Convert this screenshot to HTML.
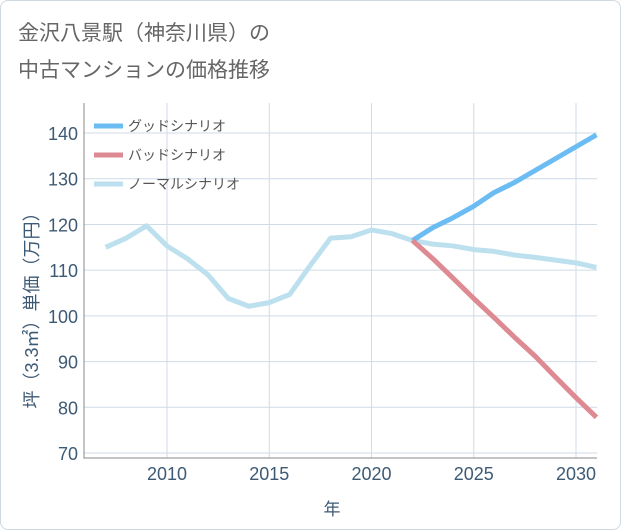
<!DOCTYPE html>
<html><head><meta charset="utf-8"><style>
body{margin:0;background:#fff;}
#card{position:absolute;left:0;top:0;width:619px;height:528px;border:1px solid #d0d8e0;border-radius:8px;background:#fff;}
text{font-family:"Liberation Sans","Noto Sans CJK JP",sans-serif;}
</style></head><body>
<div id="card"></div>
<svg id="chart" width="621" height="530" style="position:absolute;left:0;top:0">
<text x="18" y="40" font-size="21" fill="#666">金沢八景駅（神奈川県）の</text>
<text x="18" y="77" font-size="21" fill="#666">中古マンションの価格推移</text>
<g id="grid"></g><g id="series"></g><g id="axes"></g>
<text transform="translate(38,306) rotate(-90)" font-size="18" fill="#3d5a75" text-anchor="middle">坪（3.3㎡）単価（万円）</text>
<text x="332" y="515" font-size="17" fill="#3d5a75" text-anchor="middle">年</text>
<g id="legend"></g>
</svg>
<script>
const years=[2007,2008,2009,2010,2011,2012,2013,2014,2015,2016,2017,2018,2019,2020,2021,2022,2023,2024,2025,2026,2027,2028,2029,2030,2031];
const normal=[115,117,119.7,115.3,112.5,109,103.8,102.1,102.9,104.7,111,117,117.3,118.8,118,116.5,115.7,115.3,114.5,114.1,113.3,112.8,112.2,111.6,110.6];
const goodYears=[2022,2023,2024,2025,2026,2027,2028,2029,2030,2031];
const good=[116.5,119.3,121.5,124,127,129.2,131.8,134.4,137,139.6];
const bad=[116.5,112.5,108.2,103.8,99.6,95.3,91.2,86.6,82.1,77.8];
const yTicks=[70,80,90,100,110,120,130,140];
const xTicks=[2010,2015,2020,2025,2030];
const L=84,R=597,T=103,B=458;
const x=v=>167+(v-2010)*20.45;
const y=v=>453-(v-70)*4.571;
const NS='http://www.w3.org/2000/svg';
function mk(p,tag,a){const e=document.createElementNS(NS,tag);for(const k in a)e.setAttribute(k,a[k]);document.getElementById(p).appendChild(e);return e;}
yTicks.forEach(t=>{const g=mk('grid','line',{x1:L,x2:R,y1:y(t),y2:y(t),stroke:'#cfdbe6','stroke-width':1});

const s=mk('axes','text',{x:L-6,y:y(t)+7,'font-size':18,fill:'#3d5a75','text-anchor':'end'});s.textContent=t;
});
xTicks.forEach(t=>{const g=mk('grid','line',{x1:x(t),x2:x(t),y1:T,y2:B,stroke:'#cfdbe6','stroke-width':1});

const s=mk('axes','text',{x:x(t),y:B+22,'font-size':18,fill:'#3d5a75','text-anchor':'middle'});s.textContent=t;
});
const f=mk('axes','path',{d:`M${L},${T}V${B}H${R}`,fill:'none',stroke:'#888','stroke-width':1});

function line(xs,vs,c,n){const p=mk('series','polyline',{points:xs.map((v,i)=>x(v)+','+y(vs[i])).join(' '),fill:'none',stroke:c,'stroke-width':5,'stroke-linejoin':'round'});
}
line(years,normal,'#bde0ef','normal-scenario-line');
line(goodYears,good,'#6bbcf3','good-scenario-line');
line(goodYears,bad,'#de8a92','bad-scenario-line');
[['グッドシナリオ','#6bbcf3'],['バッドシナリオ','#de8a92'],['ノーマルシナリオ','#bde0ef']].forEach((e,i)=>{
const yy=126+i*29;const l=mk('legend','line',{x1:94,x2:123,y1:yy,y2:yy,stroke:e[1],'stroke-width':5});

const t=mk('legend','text',{x:128,y:yy+5,'font-size':14,fill:'#555'});t.textContent=e[0];
});
</script>
</body></html>
